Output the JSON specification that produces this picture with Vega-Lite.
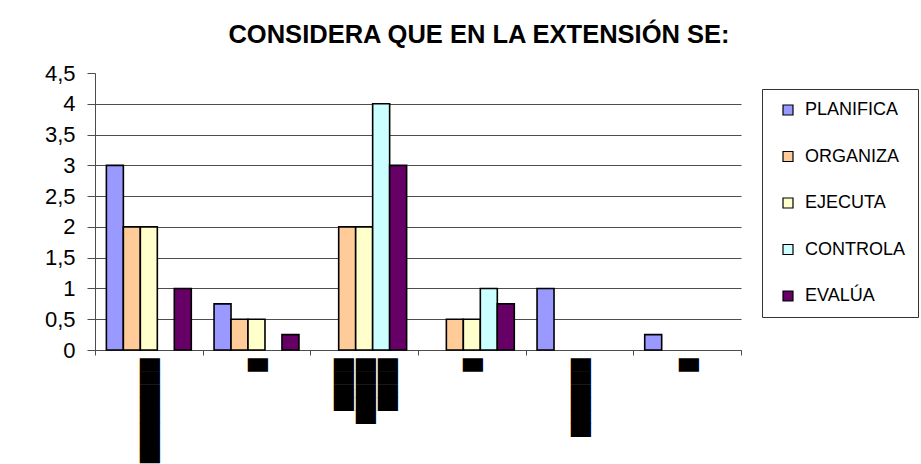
{
  "$schema": "https://vega.github.io/schema/vega-lite/v6.json",
  "autosize": {"type": "none"},
  "width": 646,
  "height": 277,
  "padding": {"left": 95, "top": 73, "right": 180, "bottom": 114},
  "background": "white",
  "title": {
    "text": "CONSIDERA QUE EN LA EXTENSIÓN SE:",
    "font": "Liberation Sans",
    "fontSize": 25.5,
    "fontWeight": "bold",
    "color": "black",
    "anchor": "middle",
    "frame": "group",
    "dx": 61,
    "offset": 14
  },
  "data": {
    "values": [
      {"g": "1", "s": "PLANIFICA", "v": 3},
      {"g": "1", "s": "ORGANIZA", "v": 2},
      {"g": "1", "s": "EJECUTA", "v": 2},
      {"g": "1", "s": "CONTROLA", "v": 0},
      {"g": "1", "s": "EVALÚA", "v": 1},
      {"g": "2", "s": "PLANIFICA", "v": 0.75},
      {"g": "2", "s": "ORGANIZA", "v": 0.5},
      {"g": "2", "s": "EJECUTA", "v": 0.5},
      {"g": "2", "s": "CONTROLA", "v": 0},
      {"g": "2", "s": "EVALÚA", "v": 0.25},
      {"g": "3", "s": "PLANIFICA", "v": 0},
      {"g": "3", "s": "ORGANIZA", "v": 2},
      {"g": "3", "s": "EJECUTA", "v": 2},
      {"g": "3", "s": "CONTROLA", "v": 4},
      {"g": "3", "s": "EVALÚA", "v": 3},
      {"g": "4", "s": "PLANIFICA", "v": 0},
      {"g": "4", "s": "ORGANIZA", "v": 0.5},
      {"g": "4", "s": "EJECUTA", "v": 0.5},
      {"g": "4", "s": "CONTROLA", "v": 1},
      {"g": "4", "s": "EVALÚA", "v": 0.75},
      {"g": "5", "s": "PLANIFICA", "v": 1},
      {"g": "5", "s": "ORGANIZA", "v": 0},
      {"g": "5", "s": "EJECUTA", "v": 0},
      {"g": "5", "s": "CONTROLA", "v": 0},
      {"g": "5", "s": "EVALÚA", "v": 0},
      {"g": "6", "s": "PLANIFICA", "v": 0.25},
      {"g": "6", "s": "ORGANIZA", "v": 0},
      {"g": "6", "s": "EJECUTA", "v": 0},
      {"g": "6", "s": "CONTROLA", "v": 0},
      {"g": "6", "s": "EVALÚA", "v": 0}
    ]
  },
  "transform": [{"filter": "datum.v > 0"}],
  "mark": {"type": "bar", "stroke": "black", "strokeWidth": 1.6},
  "encoding": {
    "x": {
      "field": "g",
      "type": "nominal",
      "sort": ["1", "2", "3", "4", "5", "6"],
      "scale": {"domain": ["1", "2", "3", "4", "5", "6"], "paddingInner": 0, "paddingOuter": 0},
      "axis": {
        "title": null,
        "tickBand": "extent",
        "domainColor": "#4d4d4d",
        "tickColor": "#4d4d4d",
        "tickSize": 5,
        "labelAngle": 90,
        "labelAlign": "left",
        "labelBaseline": "middle",
        "labelPadding": 3,
        "labelFont": "DejaVu Sans",
        "labelFontSize": 17,
        "labelLineHeight": 22,
        "labelColor": "black",
        "labelOverlap": false,
        "labelLimit": 0,
        "labelOffset": {"condition": {"test": "datum.value == '3'", "value": 22}, "value": 0},
        "labelExpr": "datum.value == '1' ? '████████' : datum.value == '3' ? ['████', '█████', '████'] : datum.value == '5' ? '██████' : (datum.value == '2' || datum.value == '4' || datum.value == '6') ? '█' : ''"
      }
    },
    "xOffset": {
      "field": "s",
      "type": "nominal",
      "sort": ["PLANIFICA", "ORGANIZA", "EJECUTA", "CONTROLA", "EVALÚA"],
      "scale": {"domain": ["PLANIFICA", "ORGANIZA", "EJECUTA", "CONTROLA", "EVALÚA"], "paddingInner": 0, "paddingOuter": 0.67}
    },
    "y": {
      "field": "v",
      "type": "quantitative",
      "scale": {"domain": [0, 4.5], "nice": false},
      "axis": {
        "title": null,
        "values": [0, 0.5, 1, 1.5, 2, 2.5, 3, 3.5, 4, 4.5],
        "labelExpr": "replace(toString(datum.value), '.', ',')",
        "labelFont": "Liberation Sans",
        "labelFontSize": 22,
        "labelColor": "black",
        "labelPadding": 12,
        "tickSize": 8,
        "tickColor": "#4d4d4d",
        "domainColor": "#4d4d4d",
        "gridColor": "#4d4d4d",
        "gridOpacity": {"condition": {"test": "datum.value > 4.4", "value": 0}, "value": 1}
      }
    },
    "color": {
      "field": "s",
      "type": "nominal",
      "scale": {
        "domain": ["PLANIFICA", "ORGANIZA", "EJECUTA", "CONTROLA", "EVALÚA"],
        "range": ["#9999FF", "#FFCC99", "#FFFFCC", "#CCFFFF", "#660066"]
      },
      "legend": {
        "title": null,
        "orient": "none",
        "legendX": 667,
        "legendY": 16,
        "strokeColor": "#333333",
        "fillColor": "white",
        "padding": 12,
        "symbolOffset": 5,
        "symbolType": "square",
        "symbolSize": 100,
        "symbolStrokeColor": "black",
        "symbolStrokeWidth": 1.2,
        "symbolOpacity": 1,
        "labelFont": "Liberation Sans",
        "labelFontSize": 18,
        "labelColor": "black",
        "labelOffset": 8,
        "rowPadding": 28.5
      }
    }
  },
  "config": {
    "view": {"stroke": null},
    "axis": {"grid": false},
    "axisY": {"grid": true}
  }
}
